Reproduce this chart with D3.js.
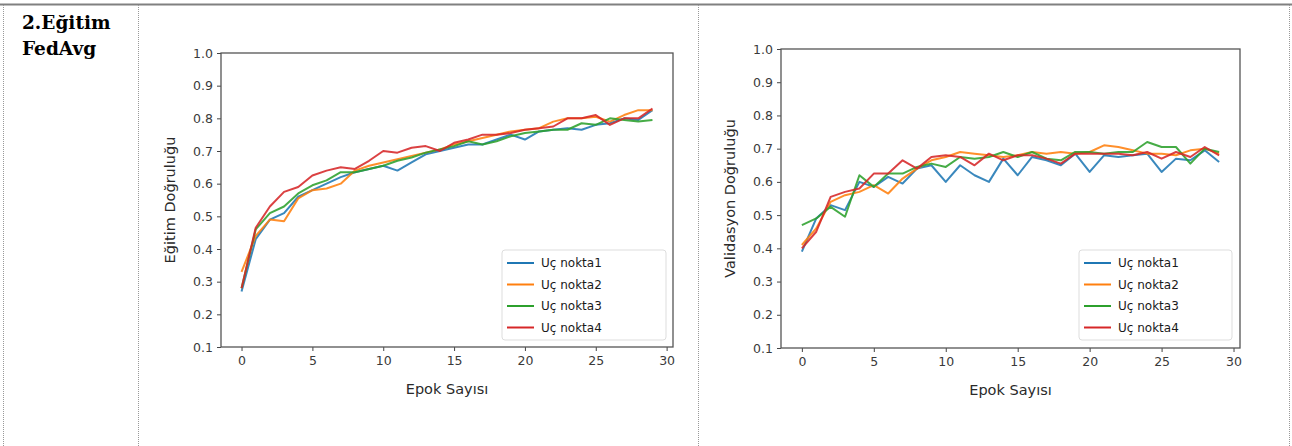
<!doctype html>
<html lang="tr">
<head>
  <meta charset="utf-8">
  <title>2.Eğitim FedAvg</title>
  <style>
    body { margin: 0; background: #fff; }
    svg { display: block; }
    .tick text { font-family: "DejaVu Sans", sans-serif; font-size: 12.5px; fill: #3a3a3a; }
    .tick line { stroke: #444; }
    .axis-title { font-family: "DejaVu Sans", sans-serif; font-size: 14.5px; fill: #2a2a2a; }
    .legend text { font-family: "DejaVu Sans", sans-serif; font-size: 12px; fill: #1a1a1a; }
  </style>
</head>
<body>
  <script src="https://cdn.jsdelivr.net/npm/d3@7/dist/d3.min.js"></script>
  <script>
    var epochs = d3.range(30)
    var seriesNames = ['Uç nokta1', 'Uç nokta2', 'Uç nokta3', 'Uç nokta4']
    var yTicks = [0.1, 0.2, 0.3, 0.4, 0.5, 0.6, 0.7, 0.8, 0.9, 1.0]
    var xTicks = [0, 5, 10, 15, 20, 25, 30]

    // egitim (training) accuracy
    var trainNokta1 = [0.27, 0.43, 0.49, 0.51, 0.56, 0.58, 0.60, 0.62, 0.635, 0.645,
      0.655, 0.64, 0.665, 0.69, 0.70, 0.71, 0.72, 0.72, 0.735, 0.75,
      0.735, 0.76, 0.765, 0.77, 0.765, 0.78, 0.785, 0.80, 0.795, 0.825]
    var trainNokta2 = [0.33, 0.44, 0.49, 0.485, 0.555, 0.58, 0.585, 0.60, 0.64, 0.655,
      0.665, 0.675, 0.685, 0.695, 0.705, 0.72, 0.73, 0.74, 0.75, 0.76,
      0.765, 0.77, 0.79, 0.80, 0.80, 0.805, 0.79, 0.81, 0.825, 0.825]
    var trainNokta3 = [0.28, 0.46, 0.51, 0.53, 0.57, 0.595, 0.61, 0.635, 0.635, 0.645,
      0.655, 0.67, 0.68, 0.695, 0.705, 0.715, 0.73, 0.72, 0.73, 0.745,
      0.755, 0.76, 0.765, 0.765, 0.785, 0.78, 0.80, 0.795, 0.79, 0.795]
    var trainNokta4 = [0.28, 0.465, 0.53, 0.575, 0.59, 0.625, 0.64, 0.65, 0.645, 0.67,
      0.70, 0.695, 0.71, 0.715, 0.70, 0.725, 0.735, 0.75, 0.75, 0.755,
      0.765, 0.77, 0.775, 0.80, 0.80, 0.81, 0.78, 0.80, 0.80, 0.83]

    // validasyon accuracy
    var valNokta1 = [0.39, 0.49, 0.53, 0.515, 0.60, 0.585, 0.615, 0.595, 0.64, 0.65,
      0.60, 0.65, 0.62, 0.60, 0.67, 0.62, 0.675, 0.665, 0.65, 0.685,
      0.63, 0.68, 0.675, 0.68, 0.685, 0.63, 0.67, 0.665, 0.695, 0.66]
    var valNokta2 = [0.41, 0.46, 0.54, 0.56, 0.57, 0.59, 0.565, 0.61, 0.64, 0.665,
      0.675, 0.69, 0.685, 0.68, 0.675, 0.68, 0.69, 0.685, 0.69, 0.685,
      0.69, 0.71, 0.705, 0.695, 0.685, 0.685, 0.68, 0.695, 0.70, 0.685]
    var valNokta3 = [0.47, 0.49, 0.525, 0.495, 0.62, 0.585, 0.625, 0.625, 0.645, 0.655,
      0.645, 0.675, 0.67, 0.675, 0.69, 0.675, 0.69, 0.67, 0.665, 0.69,
      0.69, 0.685, 0.69, 0.69, 0.72, 0.705, 0.705, 0.655, 0.70, 0.69]
    var valNokta4 = [0.40, 0.45, 0.555, 0.57, 0.58, 0.625, 0.625, 0.665, 0.64, 0.675,
      0.68, 0.675, 0.65, 0.685, 0.665, 0.68, 0.68, 0.67, 0.655, 0.685,
      0.685, 0.685, 0.685, 0.68, 0.69, 0.67, 0.69, 0.675, 0.705, 0.68]

    var colors = ['#1f77b4', '#ff7f0e', '#2ca02c', '#d62728']

    var W = 1292, H = 446
    var svg = d3.select('body').append('svg')
      .attr('width', W)
      .attr('height', H)

    // table frame
    svg.append('line')
      .attr('x1', 0).attr('x2', W).attr('y1', 4.5).attr('y2', 4.5)
      .style('stroke', '#808080').style('stroke-width', 2)
    ;[3.5, 138.5, 698.5, 1289.5].forEach(function(x) {
      svg.append('line')
        .attr('x1', x).attr('x2', x).attr('y1', 5).attr('y2', H)
        .style('stroke', '#999').style('stroke-width', 1)
        .style('stroke-dasharray', '1 1')
    })

    var head = svg.append('text')
      .style('font-family', '"DejaVu Serif", serif')
      .style('font-weight', 'bold')
      .style('font-size', '18.5px')
      .style('fill', '#000')
    head.append('tspan').attr('x', 22).attr('y', 29).text('2.Eğitim')
    head.append('tspan').attr('x', 22).attr('y', 55).text('FedAvg')

    function drawChart(opt) {
      var g = svg.append('g')

      var x = d3.scaleLinear()
        .domain([-1.45, 30.45])
        .range([opt.left, opt.right])
      var y = d3.scaleLinear()
        .domain([0.1, 1.0])
        .range([opt.bottom, opt.top])

      var xAxis = d3.axisBottom(x)
        .tickValues(xTicks)
        .tickSize(4)
        .tickPadding(5)
        .tickFormat(d3.format('d'))
      var yAxis = d3.axisLeft(y)
        .tickValues(yTicks)
        .tickSize(4)
        .tickPadding(4)
        .tickFormat(d3.format('.1f'))

      g.append('g')
        .attr('transform', 'translate(0, ' + opt.bottom + ')')
        .call(xAxis)
        .call(function(s) { s.select('.domain').remove() })
      g.append('g')
        .attr('transform', 'translate(' + opt.left + ', 0)')
        .call(yAxis)
        .call(function(s) { s.select('.domain').remove() })

      // frame (spines)
      g.append('rect')
        .attr('x', opt.left).attr('y', opt.top)
        .attr('width', opt.right - opt.left)
        .attr('height', opt.bottom - opt.top)
        .style('fill', 'none')
        .style('stroke', '#555')
        .style('stroke-width', 1.3)

      var line = d3.line()
        .x(function(d, i) { return x(epochs[i]) })
        .y(function(d) { return y(d) })

      g.selectAll('.series')
        .data(opt.series)
        .enter().append('path')
        .attr('class', 'series')
        .attr('d', line)
        .style('fill', 'none')
        .style('stroke', function(d, i) { return colors[i] })
        .style('stroke-width', 2)
        .style('stroke-linejoin', 'round')
        .style('opacity', 0.88)

      g.append('text')
        .attr('class', 'axis-title')
        .attr('x', (opt.left + opt.right) / 2)
        .attr('y', opt.bottom + 47)
        .attr('text-anchor', 'middle')
        .text('Epok Sayısı')

      g.append('text')
        .attr('class', 'axis-title')
        .attr('transform', 'translate(' + (opt.left - 46) + ', ' + ((opt.top + opt.bottom) / 2) + ') rotate(-90)')
        .attr('text-anchor', 'middle')
        .text(opt.yLabel)

      // legend
      var lg = g.append('g')
        .attr('class', 'legend')
        .attr('transform', 'translate(' + opt.legendX + ', ' + opt.legendY + ')')
      lg.append('rect')
        .attr('width', opt.legendW)
        .attr('height', 90)
        .attr('rx', 3)
        .style('fill', '#fff')
        .style('fill-opacity', 0.85)
        .style('stroke', '#ddd')
      var item = lg.selectAll('.item')
        .data(seriesNames)
        .enter().append('g')
        .attr('class', 'item')
        .attr('transform', function(d, i) { return 'translate(0, ' + (13 + i * 21.5) + ')' })
      item.append('line')
        .attr('x1', 5).attr('x2', 32)
        .style('stroke', function(d, i) { return colors[i] })
        .style('stroke-width', 2)
      item.append('text')
        .attr('x', 39)
        .attr('dy', '0.35em')
        .text(function(d) { return d })
    }

    drawChart({
      left: 221, right: 673, top: 53, bottom: 347,
      series: [trainNokta1, trainNokta2, trainNokta3, trainNokta4],
      yLabel: 'Eğitim Doğruluğu',
      legendX: 502, legendY: 250, legendW: 164
    })

    drawChart({
      left: 781, right: 1240, top: 49, bottom: 348,
      series: [valNokta1, valNokta2, valNokta3, valNokta4],
      yLabel: 'Validasyon Doğruluğu',
      legendX: 1079, legendY: 250, legendW: 153
    })
  </script>
</body>
</html>
